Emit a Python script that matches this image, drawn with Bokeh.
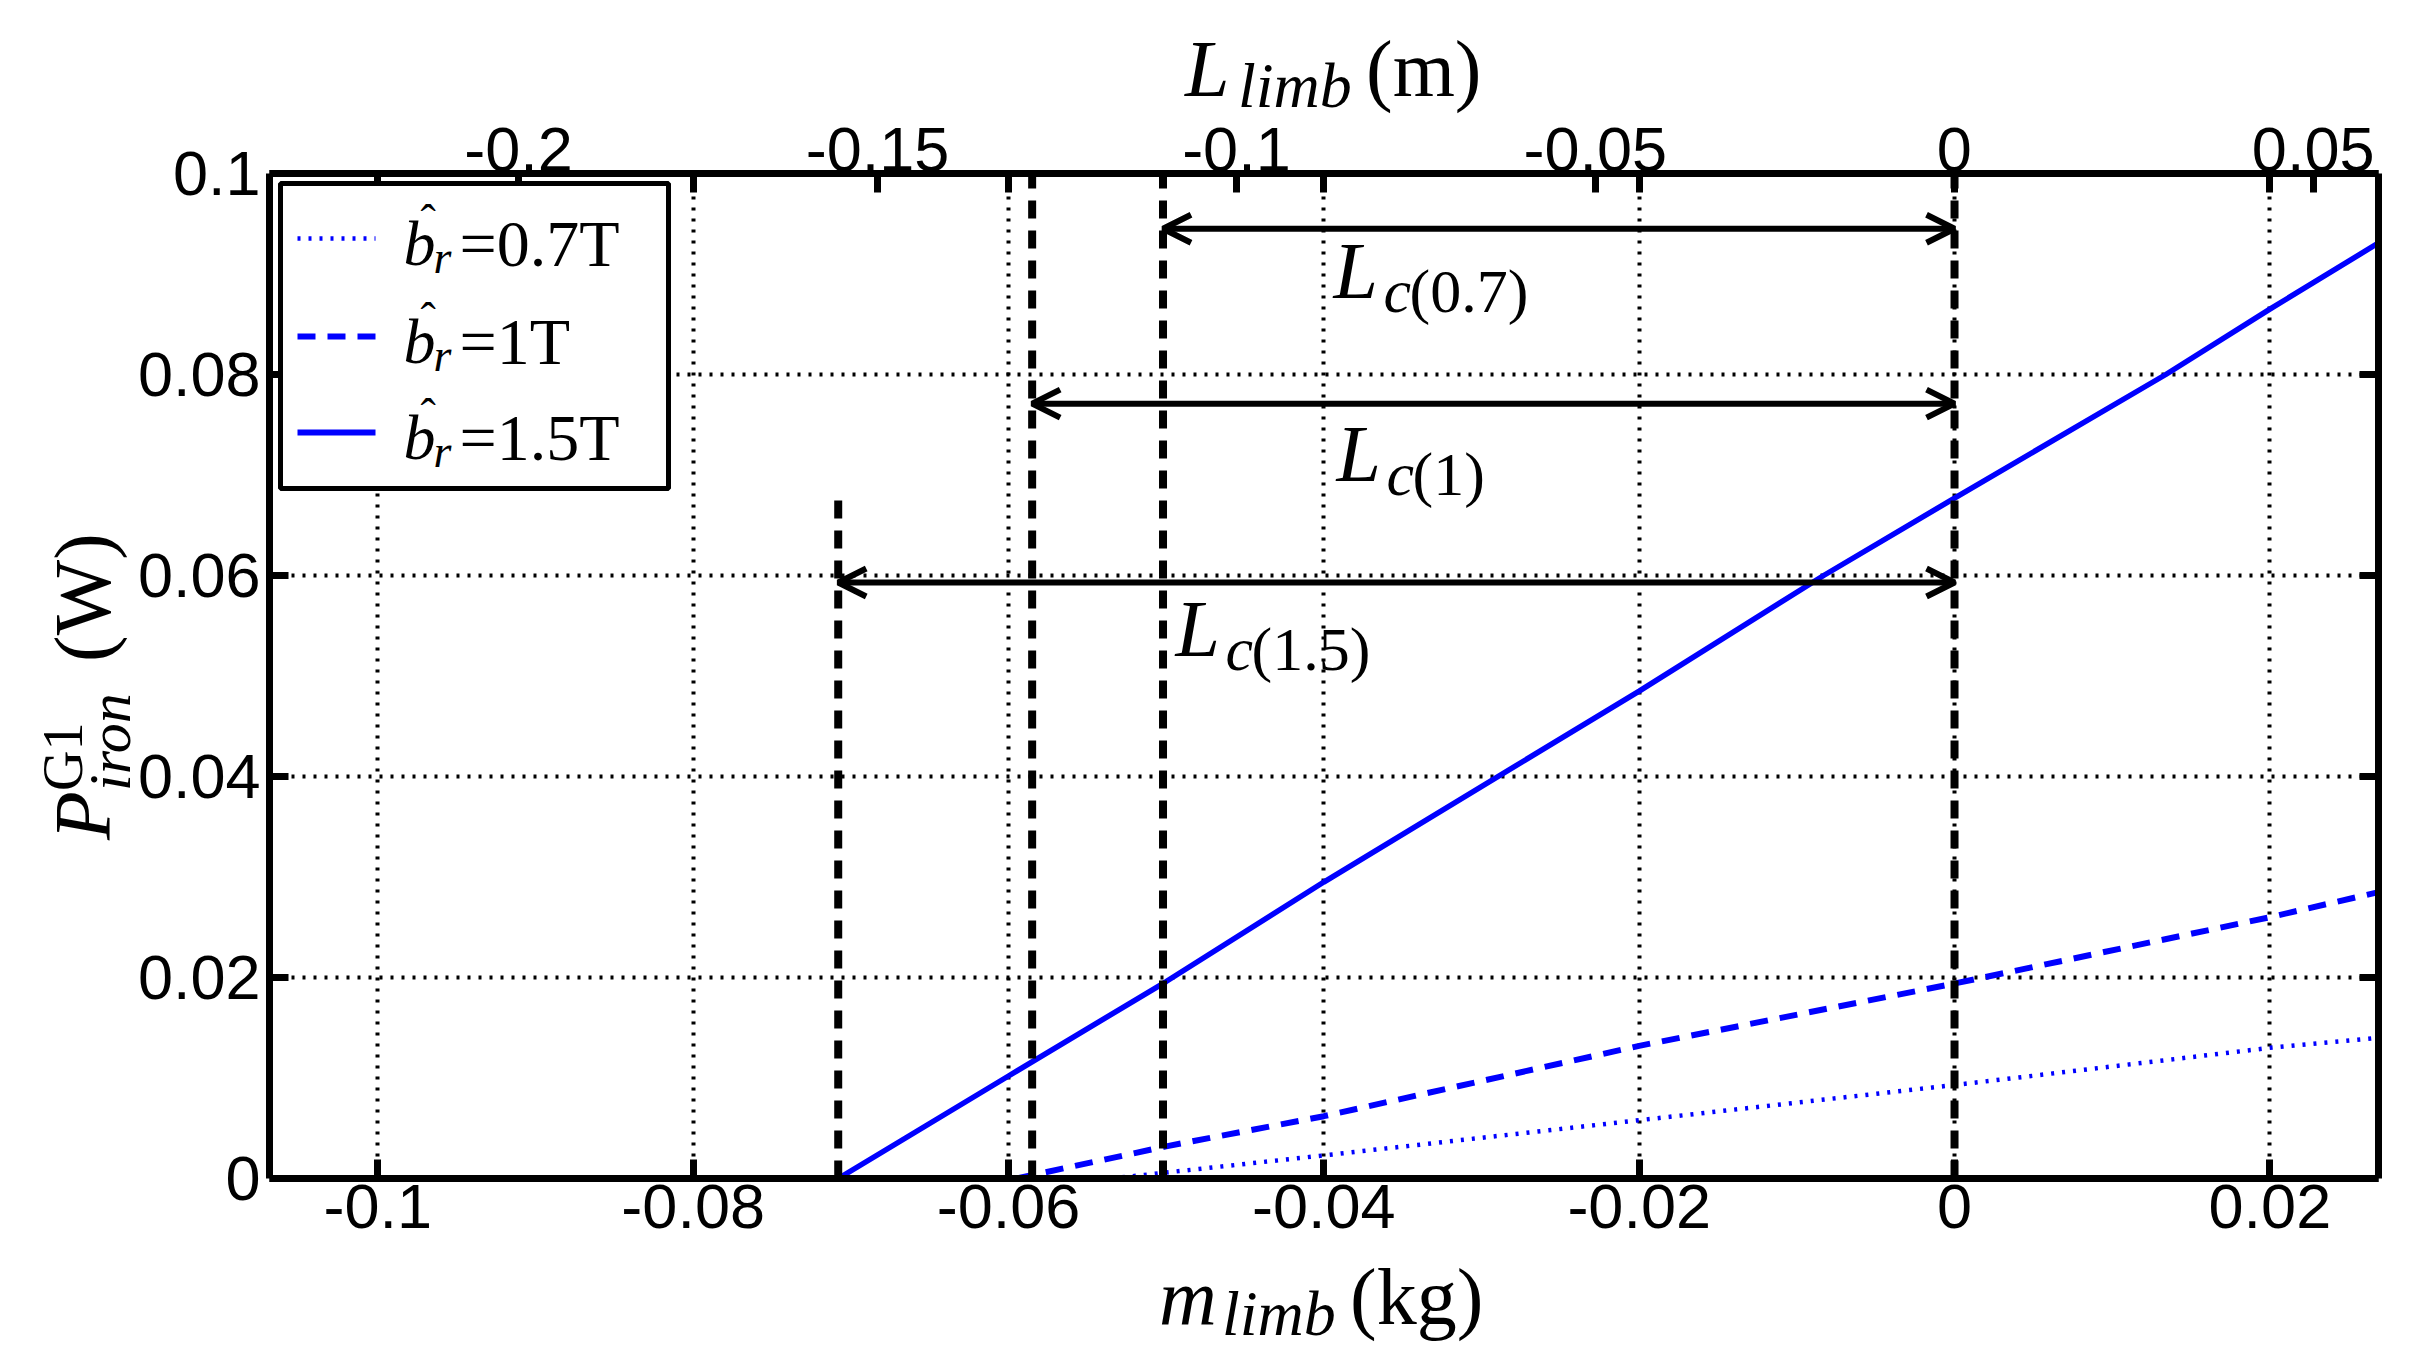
from bokeh.plotting import figure
from bokeh.models import (Range1d, LinearAxis, FixedTicker, Label, Arrow,
                          OpenHead, BoxAnnotation, Div)
from bokeh.layouts import column, row
from bokeh.embed import file_html
from bokeh.resources import INLINE

# ---------------- data ----------------
m_07 = [-0.0535, -0.04, -0.02, 0.0, 0.02, 0.0269]
p_07 = [0.0, 0.0023, 0.0058, 0.0093, 0.0130, 0.0140]

m_10 = [-0.0595, -0.05, -0.04, -0.02, 0.0, 0.02, 0.0269]
p_10 = [0.0, 0.0032, 0.0062, 0.0132, 0.0194, 0.0260, 0.0285]

m_15 = [-0.0708, -0.06, -0.05, -0.04, -0.02, -0.0083, 0.0, 0.0134, 0.02, 0.0269]
p_15 = [0.0, 0.0102, 0.0196, 0.0295, 0.0485, 0.0600, 0.0677, 0.0800, 0.0865, 0.0931]

legend_values = ["=0.7T", "=1T", "=1.5T"]

# critical-length markers (mass coordinate) for 0.7 T, 1 T, 1.5 T
lc_m = [-0.0502, -0.0585, -0.0708]
lc_top = [0.1, 0.1, 0.0683]
lc_arrow_y = [0.0945, 0.0771, 0.0593]
lc_names = ["(0.7)", "(1)", "(1.5)"]
ref_m = 0.0
ref_top = 0.1

x_ticks = [-0.1, -0.08, -0.06, -0.04, -0.02, 0.0, 0.02]
x_tick_labels = ["-0.1", "-0.08", "-0.06", "-0.04", "-0.02", "0", "0.02"]
y_ticks = [0.0, 0.02, 0.04, 0.06, 0.08, 0.1]
y_tick_labels = ["0", "0.02", "0.04", "0.06", "0.08", "0.1"]
L_ticks = [-0.2, -0.15, -0.1, -0.05, 0.0, 0.05]
L_tick_labels = ["-0.2", "-0.15", "-0.1", "-0.05", "0", "0.05"]

x_lim = [-0.10687, 0.02689]
y_lim = [0.0, 0.1]
L_lim = [-0.2347, 0.0591]

# ---------------- layout (page pixels) ----------------
PAGE_W, PAGE_H = 2425, 1367
FL, FR, FT, FB = 269, 2378, 173, 1178      # frame edges on the page
TOP_H = 97                                  # div holding the top axis title
LEFT_W = 132                                # div holding the y axis title
FIG_BOTTOM = 1257                           # page y where the figure ends
FIG_W = PAGE_W - LEFT_W
FIG_H = FIG_BOTTOM - TOP_H
BOT_H = PAGE_H - FIG_BOTTOM

BLUE = "#0000ff"
SERIF = "Liberation Serif"
SANS = "Liberation Sans"
TICK_FS = "63px"
DOT = "3 8"
DASH = "18 12"

p = figure(width=FIG_W, height=FIG_H,
           x_range=Range1d(*x_lim), y_range=Range1d(*y_lim),
           output_backend="svg", toolbar_location=None,
           min_border_left=FL - LEFT_W, min_border_right=PAGE_W - FR,
           min_border_top=FT - TOP_H, min_border_bottom=FIG_BOTTOM - FB,
           background_fill_color="white", border_fill_color="white")
p.border_fill_alpha = 0
p.outline_line_color = None

p.extra_x_ranges = {"L": Range1d(*L_lim)}
K = (L_lim[1] - L_lim[0]) / (x_lim[1] - x_lim[0])
mirror_ticks = [L_lim[0] + (t - x_lim[0]) * K for t in x_ticks]

bottom_axis = p.below[0]
left_axis = p.left[0]
top_axis = LinearAxis(x_range_name="L")
right_axis = LinearAxis()
p.add_layout(top_axis, "above")
p.add_layout(right_axis, "right")


def style_axis(ax, ticks, labels, standoff):
    ax.ticker = FixedTicker(ticks=ticks, minor_ticks=[])
    ax.major_label_overrides = dict(zip(ticks, labels))
    ax.axis_line_width = 7
    ax.axis_line_color = "black"
    ax.major_tick_line_width = 7
    ax.major_tick_line_color = "black"
    ax.major_tick_in = 19
    ax.major_tick_out = 0
    ax.minor_tick_in = 0
    ax.minor_tick_out = 0
    ax.major_label_text_font = SANS
    ax.major_label_text_font_size = TICK_FS
    ax.major_label_text_color = "black"
    ax.major_label_standoff = standoff


style_axis(bottom_axis, x_ticks, x_tick_labels, 6)
style_axis(left_axis, y_ticks, y_tick_labels, 9)
style_axis(top_axis, L_ticks + mirror_ticks,
           L_tick_labels + [""] * len(mirror_ticks), 3)
style_axis(right_axis, y_ticks, [""] * len(y_ticks), 0)
right_axis.major_label_text_font_size = "1px"

for g, t in ((p.xgrid[0], x_ticks), (p.ygrid[0], y_ticks)):
    g.ticker = FixedTicker(ticks=t, minor_ticks=[])
    g.grid_line_color = "black"
    g.grid_line_dash = "3 8"
    g.grid_line_width = 4

# ---------------- marks ----------------
p.line(m_07, p_07, line_color=BLUE, line_width=4.5, line_dash=DOT)
p.line(m_10, p_10, line_color=BLUE, line_width=6, line_dash=DASH)
p.line(m_15, p_15, line_color=BLUE, line_width=5.5)

vx = lc_m + [ref_m]
vt = lc_top + [ref_top]
p.segment(x0=vx, y0=[y_lim[0]] * len(vx), x1=vx, y1=vt,
          line_color="black", line_width=8, line_dash="18 12")

for xm, ya in zip(lc_m, lc_arrow_y):
    p.add_layout(Arrow(start=OpenHead(size=28, line_width=6, line_color="black"),
                       end=OpenHead(size=28, line_width=6, line_color="black"),
                       x_start=xm, y_start=ya, x_end=ref_m, y_end=ya,
                       line_width=6, line_color="black"))


# ---------------- in-frame text (page px -> data coords) ----------------
def dx(px):
    return x_lim[0] + (px - FL) / (FR - FL) * (x_lim[1] - x_lim[0])


def dy(py):
    return y_lim[1] - (py - FT) / (FB - FT) * (y_lim[1] - y_lim[0])


def txt(s, px, baseline, size, italic=False, level="annotation"):
    # anchor on the text's middle: shift from the wanted baseline
    mid = baseline - 0.3375 * size
    p.add_layout(Label(x=dx(px), y=dy(mid), text=s, text_font=SERIF,
                       text_font_style="italic" if italic else "normal",
                       text_font_size=f"{size}px", text_color="black",
                       text_align="left", text_baseline="middle",
                       level=level))


lc_pos = [(1333, 297), (1336, 480), (1175, 655)]
for (lx, ly), nm in zip(lc_pos, lc_names):
    txt("L", lx, ly, 80, italic=True)
    txt("c", lx + 50, ly + 14, 62, italic=True)
    txt(nm, lx + 76, ly + 14, 62)

# ---------------- legend ----------------
p.add_layout(BoxAnnotation(left=dx(280), right=dx(668), top=dy(183), bottom=dy(488),
                           fill_color="white", fill_alpha=1.0,
                           line_color="black", line_alpha=1.0, line_width=5,
                           level="annotation"))
row_y = [238, 336, 432]
styles = [dict(line_width=4.5, line_dash=DOT),
          dict(line_width=6, line_dash=DASH),
          dict(line_width=6, line_dash="solid")]
for ry, st, val in zip(row_y, styles, legend_values):
    p.add_layout(Arrow(start=None, end=None, x_start=dx(297), x_end=dx(375),
                       y_start=dy(ry), y_end=dy(ry), line_color=BLUE,
                       level="overlay", **st))
    base = ry + 27
    txt("b", 403, base, 64, italic=True, level="overlay")
    txt("\u02c6", 420, base - 28, 46, level="overlay")
    txt("r", 433, base + 8, 46, italic=True, level="overlay")
    txt(val, 459, base, 66, level="overlay")


# ---------------- axis titles as HTML text around the figure ----------------
def piece(text, left, baseline, size, italic=False):
    # line-height 60px: baseline sits at (60 - 1.107*size)/2 + 0.891*size from the top
    top = baseline - ((60 - 1.107 * size) / 2 + 0.891 * size)
    style = ("position:absolute;white-space:nowrap;line-height:60px;color:#000;"
             f"font-family:'Liberation Serif',serif;font-size:{size}px;"
             f"font-style:{'italic' if italic else 'normal'};"
             f"left:{left:.1f}px;top:{top:.1f}px")
    return f'<span style="{style}">{text}</span>'


def box(inner):
    return f'<div style="position:relative;width:100%;height:100%">{inner}</div>'


# top title: L_limb (m)   (page coordinates, div starts at page y 0)
top_html = box(piece("L", 1185, 84, 80, True)
               + piece("limb", 1238, 96, 64, True)
               + piece("(m)", 1366, 84, 80))
# bottom title: m_limb (kg)
oy = FIG_BOTTOM
bot_html = box(piece("m", 1159, 1312 - oy, 80, True)
               + piece("limb", 1222, 1324 - oy, 64, True)
               + piece("(kg)", 1350, 1312 - oy, 80))
# y title: P^{G1}_{iron} (W), rotated; u runs up from page y 828, v is page x - 53
rot = ("position:absolute;left:0;top:0;width:420px;height:60px;transform-origin:0 0;"
       f"transform:translate(53px,{828 - TOP_H}px) rotate(-90deg)")
left_html = box(f'<div style="{rot}">'
                + piece("P", 0, 57, 80, True)
                + piece("G1", 49, 29, 56)
                + piece("iron", 49, 77, 60, True)
                + piece("(W)", 178, 57, 80)
                + '</div>')

VIS = {"overflow": "visible"}
top_div = Div(text=top_html, width=PAGE_W, height=TOP_H, margin=(0, 0, 0, 0), styles=VIS)
left_div = Div(text=left_html, width=LEFT_W, height=FIG_H, margin=(0, 0, 0, 0), styles=VIS)
bot_div = Div(text=bot_html, width=PAGE_W, height=BOT_H, margin=(0, 0, 0, 0), styles=VIS)

layout = column(top_div, row(left_div, p, spacing=0), bot_div, spacing=0)

open("out.html", "w").write(file_html(layout, INLINE))
